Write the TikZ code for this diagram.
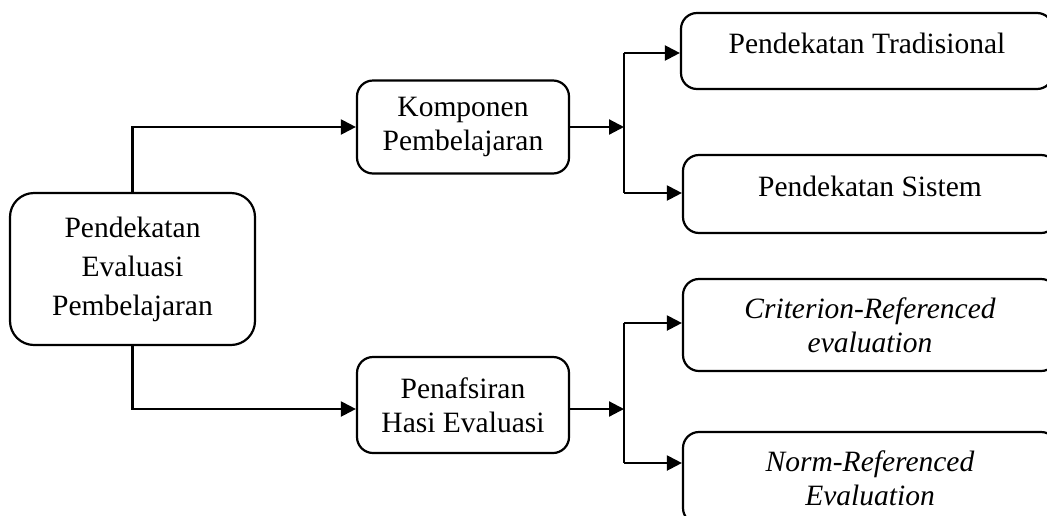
\documentclass[tikz,border=0pt]{standalone}
\usepackage{fontspec}
\setmainfont{Liberation Serif}
\usetikzlibrary{arrows.meta}
\begin{document}
\begin{tikzpicture}[x=1pt, y=-1pt,
  box/.style={draw, line width=2.2pt, rounded corners=16pt, align=center,
    inner sep=0pt, font=\fontsize{29.5}{34}\selectfont},
  oneline/.style={text height=20pt, text depth=16pt},
  link/.style={line width=2.2pt},
  arr/.style={link, -{Triangle[length=15pt,width=15pt]}}]
  \useasboundingbox (0,0) rectangle (1047,515);
  \clip (0,0) rectangle (1047,515);

  % boxes
  \node[box, rounded corners=24pt, minimum width=245pt, minimum height=152pt,
    font=\fontsize{29.5}{39}\selectfont] (root) at (132.5,269)
    {Pendekatan\\Evaluasi\\Pembelajaran};
  \node[box, minimum width=212pt, minimum height=93pt] (komp) at (463,127)
    {Komponen\\Pembelajaran};
  \node[box, minimum width=212pt, minimum height=96pt] (taf) at (463,405)
    {Penafsiran\\Hasi Evaluasi};
  \node[box, oneline, minimum width=372pt, minimum height=76pt] (trad) at (867,51)
    {Pendekatan Tradisional};
  \node[box, oneline, minimum width=374pt, minimum height=78pt] (sis) at (870,194)
    {Pendekatan Sistem};
  \node[box, minimum width=374pt, minimum height=92pt] (crit) at (870,325)
    {\itshape Criterion-Referenced\\\itshape evaluation};
  \node[box, minimum width=374pt, minimum height=92pt] (norm) at (870,478)
    {\itshape Norm-Referenced\\\itshape Evaluation};

  % junction points
  \coordinate (j1) at (624,127);
  \coordinate (j2) at (624,409);
  \coordinate (j1a) at (624,53);
  \coordinate (j1b) at (624,193);
  \coordinate (j2a) at (624,323);
  \coordinate (j2b) at (624,463);

  % root to second level
  \draw[arr] (root.north) |- (komp.west);
  \draw[arr] (root.south) |- (taf.west |- j2);

  % second level to junctions
  \draw[arr] (komp.east) -- (j1);
  \draw[arr] (taf.east |- j2) -- (j2);

  % branches
  \draw[link] (j1a) -- (j1b);
  \draw[link] (j2a) -- (j2b);
  \draw[arr] (j1a) -- (trad.west |- j1a);
  \draw[arr] (j1b) -- (sis.west |- j1b);
  \draw[arr] (j2a) -- (crit.west |- j2a);
  \draw[arr] (j2b) -- (norm.west |- j2b);
\end{tikzpicture}
\end{document}
